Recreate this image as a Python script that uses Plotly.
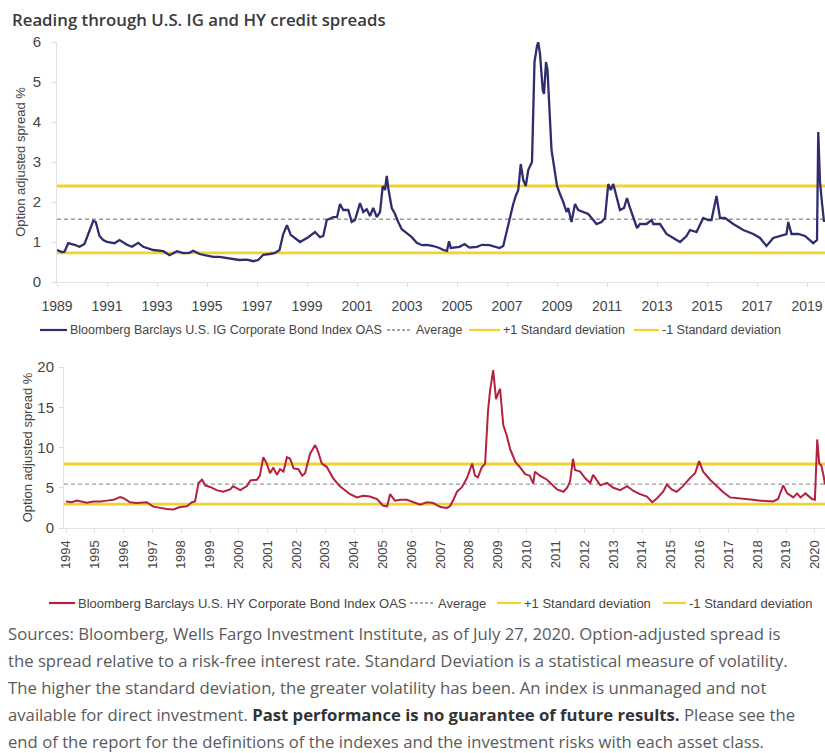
import plotly.graph_objects as go

W, H = 825, 753

# ---------------- data ----------------
ig_year = [1989.0, 1989.2, 1989.3, 1989.45, 1989.7, 1989.9, 1990.1, 1990.3, 1990.45, 1990.55,
           1990.7, 1990.85, 1991.0, 1991.3, 1991.5, 1991.8, 1992.0, 1992.25, 1992.45, 1992.85,
           1993.25, 1993.5, 1993.8, 1994.05, 1994.3, 1994.45, 1994.7, 1995.0, 1995.25, 1995.5,
           1996.05, 1996.3, 1996.6, 1996.85, 1997.05, 1997.25, 1997.5, 1997.7, 1997.9, 1998.05,
           1998.2, 1998.35, 1998.72, 1999.05, 1999.32, 1999.52, 1999.65, 1999.79, 2000.05, 2000.2,
           2000.32, 2000.45, 2000.65, 2000.79, 2000.92, 2001.12, 2001.25, 2001.39, 2001.52, 2001.65,
           2001.79, 2001.92, 2002.03, 2002.12, 2002.19, 2002.25, 2002.39, 2002.52, 2002.65, 2002.79,
           2002.99, 2003.19, 2003.39, 2003.6, 2003.8, 2004.05, 2004.3, 2004.45, 2004.6, 2004.68,
           2004.75, 2004.9, 2005.1, 2005.3, 2005.5, 2005.8, 2006.0, 2006.3, 2006.5, 2006.7,
           2006.85, 2007.0, 2007.1, 2007.25, 2007.35, 2007.45, 2007.55, 2007.65, 2007.75, 2007.85,
           2008.0, 2008.1, 2008.2, 2008.25, 2008.32, 2008.43, 2008.48, 2008.56, 2008.62, 2008.72,
           2008.78, 2008.88, 2009.0, 2009.12, 2009.25, 2009.38, 2009.45, 2009.58, 2009.72, 2009.85,
           2010.05, 2010.25, 2010.45, 2010.58, 2010.78, 2010.92, 2011.05, 2011.15, 2011.25, 2011.4,
           2011.52, 2011.68, 2011.8, 2011.92, 2012.05, 2012.2, 2012.32, 2012.58, 2012.78, 2012.85,
           2013.12, 2013.38, 2013.65, 2013.92, 2014.18, 2014.32, 2014.58, 2014.85, 2015.05, 2015.18,
           2015.38, 2015.52, 2015.72, 2016.05, 2016.45, 2016.85, 2017.12, 2017.38, 2017.65, 2017.92,
           2018.18, 2018.25, 2018.38, 2018.65, 2018.92, 2019.25, 2019.4, 2019.45, 2019.52, 2019.58,
           2019.68]
ig_oas = [0.8, 0.75, 0.76, 0.97, 0.93, 0.88, 0.95, 1.3, 1.53, 1.5,
          1.15, 1.05, 1.0, 0.97, 1.05, 0.93, 0.88, 0.98, 0.88, 0.8,
          0.77, 0.67, 0.77, 0.72, 0.73, 0.78, 0.7, 0.66, 0.63, 0.63,
          0.58, 0.55, 0.56, 0.52, 0.55, 0.68, 0.7, 0.72, 0.8, 1.2,
          1.42, 1.18, 1.0, 1.12, 1.25, 1.12, 1.15, 1.55, 1.62, 1.62,
          1.95, 1.8, 1.8, 1.5, 1.55, 1.97, 1.75, 1.82, 1.65, 1.85,
          1.62, 1.75, 2.4, 2.3, 2.65, 2.35, 1.85, 1.7, 1.5, 1.32,
          1.22, 1.12, 0.98, 0.92, 0.93, 0.9, 0.85, 0.8, 0.78, 1.02,
          0.85, 0.87, 0.88, 0.95, 0.86, 0.88, 0.93, 0.92, 0.88, 0.85,
          0.9, 1.3, 1.55, 1.95, 2.15, 2.3, 2.95, 2.55, 2.4, 2.8,
          3.0, 5.5, 5.9, 6.0, 5.7, 4.8, 4.7, 5.5, 5.3, 3.9,
          3.3, 2.9, 2.4, 2.2, 2.0, 1.75, 1.85, 1.5, 1.95, 1.8,
          1.75, 1.7, 1.55, 1.45, 1.5, 1.6, 2.45, 2.3, 2.45, 2.05,
          1.8, 1.85, 2.1, 1.85, 1.6, 1.35, 1.45, 1.45, 1.55, 1.45,
          1.45, 1.2, 1.1, 1.0, 1.15, 1.3, 1.25, 1.6, 1.55, 1.55,
          2.15, 1.6, 1.6, 1.45, 1.3, 1.2, 1.1, 0.9, 1.1, 1.15,
          1.2, 1.5, 1.2, 1.2, 1.15, 0.97, 1.05, 3.75, 2.5, 2.1,
          1.5]
ig_avg, ig_plus1, ig_minus1 = 1.57, 2.4, 0.73

hy_year = [1994.0, 1994.2, 1994.37, 1994.55, 1994.72, 1994.95, 1995.2, 1995.42, 1995.65, 1995.88,
           1996.0, 1996.22, 1996.45, 1996.8, 1996.9, 1997.03, 1997.27, 1997.5, 1997.73, 1997.96,
           1998.2, 1998.37, 1998.48, 1998.6, 1998.72, 1998.83, 1999.0, 1999.23, 1999.45, 1999.7,
           1999.8, 2000.05, 2000.28, 2000.4, 2000.63, 2000.73, 2000.85, 2000.97, 2001.08, 2001.2,
           2001.32, 2001.43, 2001.55, 2001.67, 2001.78, 2001.9, 2002.07, 2002.2, 2002.3, 2002.47,
           2002.65, 2002.75, 2002.88, 2003.05, 2003.27, 2003.5, 2003.86, 2004.1, 2004.32, 2004.55,
           2004.8, 2005.0, 2005.15, 2005.25, 2005.42, 2005.6, 2005.83, 2006.05, 2006.3, 2006.53,
           2006.75, 2007.0, 2007.22, 2007.33, 2007.45, 2007.57, 2007.75, 2007.92, 2008.1, 2008.2,
           2008.3, 2008.43, 2008.55, 2008.65, 2008.72, 2008.83, 2008.93, 2009.0, 2009.07, 2009.18,
           2009.3, 2009.42, 2009.6, 2009.77, 2009.94, 2010.1, 2010.22, 2010.28, 2010.45, 2010.7,
           2010.92, 2011.05, 2011.27, 2011.4, 2011.5, 2011.6, 2011.67, 2011.85, 2012.02, 2012.2,
           2012.3, 2012.55, 2012.78, 2013.0, 2013.24, 2013.48, 2013.7, 2013.93, 2014.17, 2014.35,
           2014.52, 2014.73, 2014.86, 2015.03, 2015.2, 2015.42, 2015.66, 2015.84, 2015.98, 2016.12,
           2016.36, 2016.6, 2016.8, 2017.05, 2017.4, 2017.64, 2017.85, 2018.1, 2018.34, 2018.55,
           2018.72, 2018.9, 2019.04, 2019.25, 2019.38, 2019.5, 2019.67, 2019.9, 2020.0, 2020.08,
           2020.15, 2020.22, 2020.3, 2020.35]
hy_oas = [3.3, 3.2, 3.4, 3.3, 3.15, 3.3, 3.3, 3.4, 3.5, 3.85,
          3.7, 3.2, 3.1, 3.2, 3.0, 2.65, 2.5, 2.35, 2.3, 2.6,
          2.7, 3.2, 3.3, 5.6, 6.0, 5.3, 5.1, 4.7, 4.5, 4.8,
          5.2, 4.7, 5.2, 5.9, 6.0, 6.5, 8.8, 8.0, 6.8, 7.5,
          6.6, 7.3, 7.0, 8.8, 8.6, 7.4, 7.3, 6.5, 6.8, 9.2,
          10.3, 9.5, 8.0, 7.6, 6.2, 5.2, 4.2, 3.8, 4.0, 3.9,
          3.6, 2.8, 2.7, 4.2, 3.4, 3.5, 3.5, 3.2, 2.9, 3.2,
          3.1, 2.6, 2.5, 2.7, 3.5, 4.5, 5.1, 6.2, 8.0, 6.5,
          6.3, 7.5, 8.0, 14.5, 17.0, 19.6, 16.0, 16.7, 17.3, 12.8,
          11.5, 9.8, 8.2, 7.5, 6.7, 6.5, 5.5, 7.0, 6.5, 6.0,
          5.2, 4.8, 4.5, 5.0, 5.8, 8.6, 7.2, 7.0, 6.2, 5.6,
          6.6, 5.3, 5.6, 5.0, 4.7, 5.2, 4.6, 4.2, 3.9, 3.2,
          3.7, 4.5, 5.4, 4.8, 4.5, 5.2, 6.2, 6.8, 8.3, 7.0,
          6.0, 5.2, 4.5, 3.8, 3.7, 3.6, 3.5, 3.4, 3.3, 3.3,
          3.6, 5.3, 4.3, 3.8, 4.3, 3.8, 4.3, 3.6, 3.5, 11.0,
          8.0, 7.8, 6.5, 5.4]
hy_avg, hy_plus1, hy_minus1 = 5.45, 7.95, 2.97

ig_ticks = list(range(1989, 2020, 2))
hy_ticks = list(range(1994, 2021))

title_text = "Reading through U.S. IG and HY credit spreads"
ytitle = "Option adjusted spread %"
ig_name = "Bloomberg Barclays U.S. IG Corporate Bond Index OAS"
hy_name = "Bloomberg Barclays U.S. HY Corporate Bond Index OAS"
legend_names = ["Average", "+1 Standard deviation", "-1 Standard deviation"]
footnote_lines = [
    "Sources: Bloomberg, Wells Fargo Investment Institute, as of July 27, 2020. Option-adjusted spread is",
    "the spread relative to a risk-free interest rate. Standard Deviation is a statistical measure of volatility.",
    "The higher the standard deviation, the greater volatility has been. An index is unmanaged and not",
    "available for direct investment. <b><span style='color:#333333'>Past performance is no guarantee of future results.</span></b> Please see the",
    "end of the report for the definitions of the indexes and the investment risks with each asset class.",
]

# ---------------- styling ----------------
NAVY = "#2f2d70"
RED = "#b3213f"
YEL = "#f2d232"
AVG = "#9a9a9a"
TXT = "#454545"
COND = "Liberation Sans, Arial, sans-serif"
BODY = "Open Sans, Noto Sans, sans-serif"


def px_x(p):
    return p / W


def px_y(p):
    return 1 - p / H


fig = go.Figure()

fig.add_trace(go.Scatter(x=ig_year, y=ig_oas, mode="lines", line=dict(color=NAVY, width=2.3),
                         xaxis="x", yaxis="y", showlegend=False, name=ig_name))
fig.add_trace(go.Scatter(x=hy_year, y=hy_oas, mode="lines", line=dict(color=RED, width=2.0),
                         xaxis="x2", yaxis="y2", showlegend=False, name=hy_name))

shapes = []
for xr, yr, avg, p1, m1 in [("x", "y", ig_avg, ig_plus1, ig_minus1),
                            ("x2", "y2", hy_avg, hy_plus1, hy_minus1)]:
    shapes.append(dict(type="line", xref=xr + " domain", yref=yr, x0=0, x1=1, y0=avg, y1=avg,
                       line=dict(color=AVG, width=1.4, dash="4px,3px"), layer="below"))
    for v in (p1, m1):
        shapes.append(dict(type="line", xref=xr + " domain", yref=yr, x0=0, x1=1, y0=v, y1=v,
                           line=dict(color=YEL, width=2.8), layer="below"))

annotations = []


def legend_row(y, size, items):
    for (x0, x1, style, tx, label) in items:
        shapes.append(dict(type="line", xref="paper", yref="paper",
                           x0=px_x(x0), x1=px_x(x1), y0=px_y(y), y1=px_y(y), line=style))
        annotations.append(dict(x=px_x(tx), y=px_y(y), xref="paper", yref="paper", text=label,
                                showarrow=False, xanchor="left", yanchor="middle",
                                font=dict(family=COND, size=size, color=TXT)))


DOT = dict(color="#8c8c8c", width=1.4, dash="3px,2px")
legend_row(330, 12.5, [
    (40, 67, dict(color=NAVY, width=2.2), 68, ig_name),
    (387, 412, DOT, 414, legend_names[0]),
    (469, 500, dict(color=YEL, width=2.2), 501, legend_names[1]),
    (634, 659, dict(color=YEL, width=2.2), 660, legend_names[2]),
])
legend_row(603, 13, [
    (49, 75, dict(color=RED, width=2.2), 76, hy_name),
    (410, 434, DOT, 436, legend_names[0]),
    (497, 521, dict(color=YEL, width=2.2), 522, legend_names[1]),
    (663, 686, dict(color=YEL, width=2.2), 687, legend_names[2]),
])

# title
annotations.append(dict(x=px_x(10), y=px_y(20), xref="paper", yref="paper", text=title_text,
                        showarrow=False, xanchor="left", yanchor="middle",
                        font=dict(family=BODY, size=16.8, color="#3a3a3a", weight=600)))

# footnote
for i, line in enumerate(footnote_lines):
    annotations.append(dict(x=px_x(6), y=px_y(633 + i * 27), xref="paper", yref="paper", text=line,
                            showarrow=False, xanchor="left", yanchor="middle",
                            font=dict(family=BODY, size=16.7, color="#5a5a5a")))

axis_common = dict(showgrid=False, zeroline=False, showline=True, linecolor="#e2e2e2", linewidth=1,
                   ticks="outside", ticklen=4, tickcolor="#dddddd", automargin=False)

fig.update_layout(
    width=W, height=H, margin=dict(l=0, r=0, t=0, b=0, autoexpand=False),
    paper_bgcolor="white", plot_bgcolor="white",
    shapes=shapes, annotations=annotations,
    xaxis=dict(domain=[px_x(57), 1], range=[1989, 2019.72], tickvals=ig_ticks,
               tickfont=dict(family=COND, size=14, color=TXT), anchor="y", ticklabelstandoff=7,
               **axis_common),
    yaxis=dict(domain=[px_y(282), px_y(42)], range=[0, 6], tickvals=list(range(0, 7)),
               tickfont=dict(family=COND, size=15, color=TXT), anchor="x", ticklabelstandoff=8,
               title=dict(text=ytitle, font=dict(family=COND, size=13, color=TXT), standoff=4),
               **axis_common),
    xaxis2=dict(domain=[px_x(64), 1], range=[1993.93, 2020.35], tickvals=hy_ticks, tickangle=-90,
                tickfont=dict(family=COND, size=13, color=TXT), anchor="y2", ticklabelstandoff=2,
                **axis_common),
    yaxis2=dict(domain=[px_y(528), px_y(367)], range=[0, 20], tickvals=[0, 5, 10, 15, 20],
                tickfont=dict(family=COND, size=15, color=TXT), anchor="x2", ticklabelstandoff=2,
                title=dict(text=ytitle, font=dict(family=COND, size=13, color=TXT), standoff=1),
                **axis_common),
)

fig.write_html("out.html")
